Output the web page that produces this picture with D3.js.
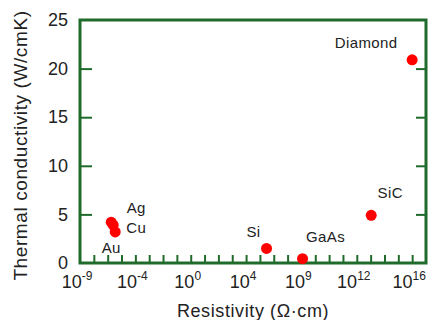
<!DOCTYPE html>
<html>
<head>
<meta charset="utf-8">
<script src="https://cdn.jsdelivr.net/npm/d3@7"></script>
<style>
  body { margin: 0; background: #fff; }
  svg text { font-family: "Liberation Sans", Arial, sans-serif; fill: #222; }
</style>
</head>
<body>
<div id="chart"></div>
<script>
// materials, resistivity (ohm cm), thermal conductivity (W/cmK)
const materials = ['Ag', 'Cu', 'Au', 'Si', 'GaAs', 'SiC', 'Diamond'];
const resistivity = [1.8e-6, 2.5e-6, 3.5e-6, 3e5, 1.2e8, 1.1e13, 1e16];
const conductivity = [4.2, 3.9, 3.2, 1.5, 0.45, 4.9, 20.9];

const yTicks = [0, 5, 10, 15, 20, 25];
const xLabelExp = [-8, -4, 0, 4, 8, 12, 16];
const xLabelText = ['-9', '-4', '0', '4', '9', '12', '16'];

// where each label sits relative to its dot
const labelPos = {
  Ag: [25, -9], Cu: [23, 8], Au: [-4, 21], Si: [-13, -11],
  GaAs: [23, -17], SiC: [19, -17], Diamond: [-46, -12]
};

const margin = { top: 20, right: 5, bottom: 57, left: 80 };
const W = 431, H = 320;
const width = W - margin.left - margin.right;
const height = H - margin.top - margin.bottom;
const green = '#1f6b2b';

const svg = d3.select('#chart').append('svg')
  .attr('width', W).attr('height', H)
  .append('g')
  .attr('transform', `translate(${margin.left},${margin.top})`);

const x = d3.scaleLog().domain([1e-8, 1e17]).range([0, width]);
const y = d3.scaleLinear().domain([0, 25]).range([height, 0]);

const decades = d3.range(-7, 17).map(e => Math.pow(10, e));

// bottom ticks (inward)
const xAxis = svg.append('g')
  .attr('transform', `translate(0,${height})`)
  .call(d3.axisBottom(x).tickValues(decades).tickSizeInner(-8).tickSizeOuter(0).tickFormat(''));
xAxis.select('.domain').remove();
xAxis.selectAll('line').attr('stroke', green).attr('stroke-width', 2);

// left axis
const yAxis = svg.append('g')
  .call(d3.axisLeft(y).tickValues(yTicks).tickSizeInner(-12).tickSizeOuter(0).tickPadding(12));
yAxis.select('.domain').remove();
yAxis.selectAll('line').attr('stroke', green).attr('stroke-width', 2);
yAxis.selectAll('.tick').filter(d => d === 0 || d === 25).select('line').remove();
yAxis.selectAll('text').style('font-size', '18px').attr('fill', '#222');

// right axis ticks
const yAxisR = svg.append('g')
  .attr('transform', `translate(${width},0)`)
  .call(d3.axisLeft(y).tickValues([5, 10, 15, 20]).tickSizeInner(10).tickSizeOuter(0).tickFormat(''));
yAxisR.select('.domain').remove();
yAxisR.selectAll('line').attr('stroke', green).attr('stroke-width', 2);

// frame
svg.append('rect')
  .attr('width', width).attr('height', height)
  .attr('fill', 'none').attr('stroke', green).attr('stroke-width', 3);

// x labels 10^n
const xl = svg.append('g').selectAll('text')
  .data(xLabelExp)
  .join('text')
  .attr('x', (d, i) => x(Math.pow(10, d)) - 3)
  .attr('y', height + 25)
  .attr('text-anchor', 'middle')
  .style('font-size', '18px');
xl.append('tspan').text('10');
xl.append('tspan')
  .attr('dy', -8)
  .style('font-size', '12px')
  .text((d, i) => xLabelText[i]);

// points
svg.selectAll('.pt')
  .data(materials)
  .join('circle')
  .attr('class', 'pt')
  .attr('cx', (d, i) => x(resistivity[i]))
  .attr('cy', (d, i) => y(conductivity[i]))
  .attr('r', 5.5)
  .attr('fill', '#ff0000');

svg.selectAll('.lbl')
  .data(materials)
  .join('text')
  .attr('class', 'lbl')
  .attr('x', (d, i) => x(resistivity[i]) + labelPos[d][0])
  .attr('y', (d, i) => y(conductivity[i]) + labelPos[d][1])
  .attr('text-anchor', 'middle')
  .style('font-size', '15px')
  .style('letter-spacing', '0.4px')
  .text(d => d);

// axis titles
svg.append('text')
  .attr('x', width / 2)
  .attr('y', height + 54)
  .attr('text-anchor', 'middle')
  .style('font-size', '18px')
  .style('letter-spacing', '0.6px')
  .text('Resistivity (Ω·cm)');

svg.append('text')
  .attr('transform', `translate(${-53},${height / 2 + 4}) rotate(-90)`)
  .attr('text-anchor', 'middle')
  .style('font-size', '19px')
  .style('letter-spacing', '0.6px')
  .text('Thermal conductivity (W/cmK)');
</script>
</body>
</html>
